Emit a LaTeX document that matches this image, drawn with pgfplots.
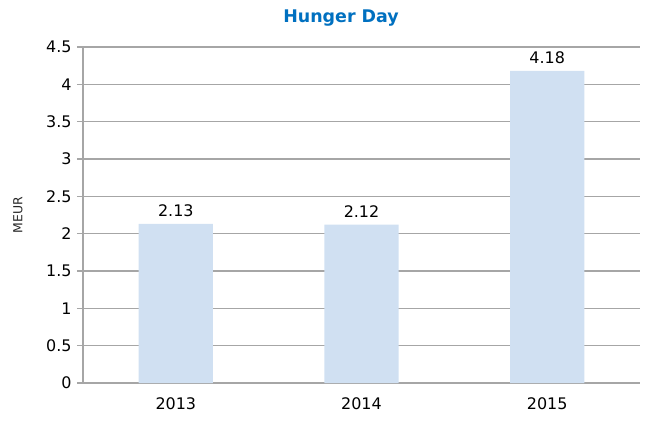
\documentclass[border=0pt]{standalone}
\usepackage{pgfplots}
\pgfplotsset{compat=1.18}
\usepackage{fontspec}
\setmainfont{DejaVu Sans}
\definecolor{barfill}{HTML}{D0E0F2}
\definecolor{gridgray}{HTML}{A6A6A6}
\definecolor{titleblue}{HTML}{0070C0}
\begin{document}
\begin{tikzpicture}[x=1bp,y=1bp]
\path[use as bounding box] (-83,-37) rectangle (562,383);
\begin{axis}[
  at={(0,0)}, anchor=south west,
  scale only axis, width=557bp, height=336bp,
  xmin=-0.5, xmax=2.5, ymin=0, ymax=4.5,
  xtick={0,1,2}, xticklabels={2013,2014,2015},
  ytick={0,0.5,...,4.5},
  yticklabels={0,0.5,1,1.5,2,2.5,3,3.5,4,4.5},
  /pgf/number format/assume math mode=true,
  tick label style={font=\fontsize{16}{18}\selectfont, text=black},
  x tick style={draw=none},
  y tick style={draw=gridgray, line width=1.6pt},
  tick align=outside, major tick length=6bp,
  ymajorgrids, grid style={draw=gridgray, line width=1.6pt},
  axis line style={draw=gridgray, line width=1.6pt},
  axis x line*=bottom, axis y line*=left,
  xticklabel style={yshift=-5bp},
  yticklabel style={xshift=-2bp},
  clip=false,
]
\addplot[ybar, bar width=0.4, fill=barfill, draw=none,
  nodes near coords, point meta=y,
  nodes near coords style={font=\fontsize{16}{18}\selectfont, text=black,
    /pgf/number format/fixed, /pgf/number format/precision=2,
    /pgf/number format/fixed zerofill, /pgf/number format/assume math mode=true,
    yshift=4bp}]
  coordinates {(0,2.13) (1,2.12) (2,4.18)};
\end{axis}
\node[font=\bfseries\fontsize{17.5}{20}\selectfont, text=titleblue] at (258,365) {Hunger Day};
\node[font=\fontsize{12.5}{14}\selectfont, rotate=90, text=black!85] at (-65,168) {MEUR};
\end{tikzpicture}
\end{document}
